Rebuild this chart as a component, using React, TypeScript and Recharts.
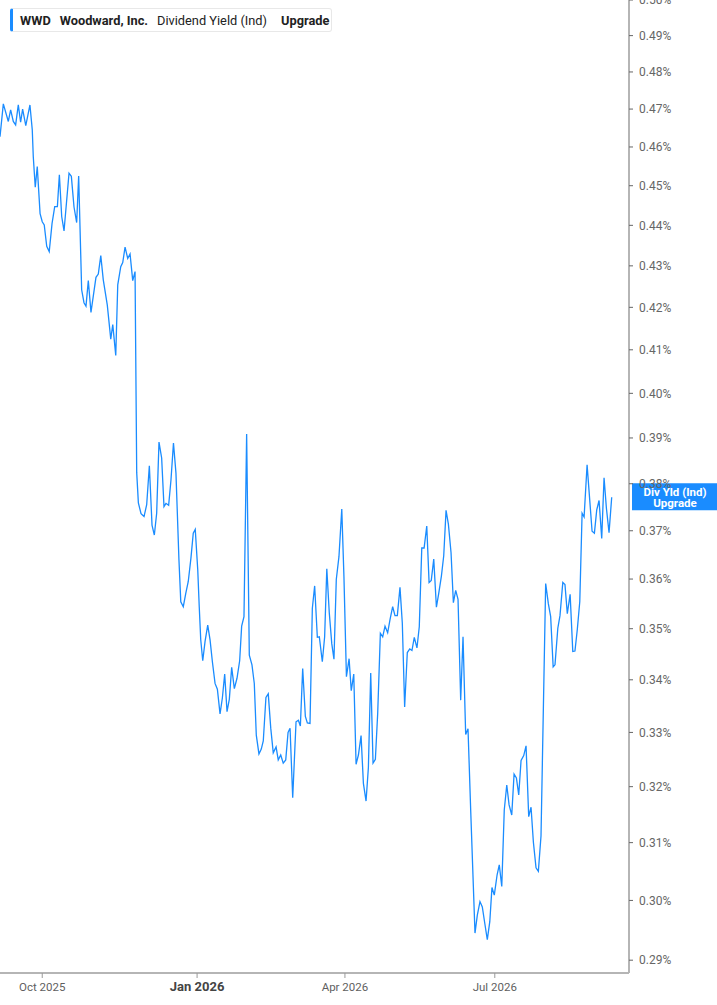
import { LineChart, Line, XAxis, YAxis, ReferenceLine } from 'recharts';

// days since 2025-09-05 (chart start) for each plotted observation
const days = [
  0.0, 2.0, 5.0, 6.4, 8.0, 9.4, 11.0, 12.4, 13.6, 15.5,
  18.0, 19.4, 20.0, 21.2, 22.4, 24.1, 25.4, 26.6, 28.1, 29.6,
  31.3, 32.9, 34.5, 35.7, 37.1, 38.5, 41.5, 42.9, 44.5, 46.1,
  47.3, 49.1, 50.5, 51.7, 53.1, 54.7, 57.7, 59.1, 60.6, 62.1,
  64.5, 66.6, 67.8, 69.6, 70.8, 72.6, 73.8, 75.2, 76.8, 78.2,
  79.8, 81.2, 82.2, 83.2, 84.8, 86.6, 88.2, 89.8, 91.4, 92.8,
  94.2, 95.6, 97.2, 98.6, 99.8, 101.4, 102.8, 104.3, 105.8, 107.6,
  108.7, 110.2, 111.7, 113.2, 114.8, 116.2, 117.4, 118.9, 119.8, 120.7,
  121.9, 123.3, 124.9, 126.3, 127.7, 129.3, 130.7, 132.3, 133.7, 135.1,
  136.5, 137.9, 139.3, 140.9, 142.5, 144.1, 145.3, 146.7, 148.3, 149.9,
  151.5, 152.9, 154.1, 155.7, 157.1, 158.3, 159.9, 161.3, 162.8, 164.3,
  166.0, 167.3, 168.8, 170.3, 171.8, 173.2, 174.4, 176.0, 178.0, 179.4,
  180.6, 182.0, 183.6, 184.8, 186.4, 187.8, 189.2, 190.8, 192.0, 193.8,
  195.2, 196.5, 198.0, 199.5, 200.8, 202.2, 203.8, 205.5, 206.8, 208.3,
  209.9, 211.2, 212.7, 214.1, 215.5, 217.1, 218.5, 220.1, 221.5, 222.9,
  224.3, 225.7, 227.1, 228.7, 230.1, 231.5, 233.1, 234.5, 236.1, 237.5,
  238.9, 240.5, 241.9, 243.3, 244.9, 246.4, 247.7, 249.1, 250.7, 252.1,
  253.6, 255.0, 256.6, 258.0, 259.3, 260.8, 262.4, 263.8, 265.4, 266.8,
  268.2, 269.6, 271.2, 272.6, 274.0, 275.4, 277.0, 278.4, 280.0, 281.4,
  283.0, 285.6, 287.0, 288.6, 290.0, 291.5, 293.0, 294.5, 295.8, 297.2,
  298.9, 300.2, 301.7, 303.2, 304.7, 306.1, 307.7, 309.1, 310.5, 311.9,
  313.3, 314.9, 316.3, 317.9, 319.3, 320.7, 322.3, 323.7, 325.3, 328.1,
  329.7, 331.1, 332.6, 333.7, 335.4, 336.7, 338.4, 339.7, 341.1, 342.8,
  344.4, 345.7, 347.1, 348.6, 350.0, 351.2, 353.0, 354.4, 356.0, 357.4,
  358.8, 360.2, 361.8, 363.2, 364.6, 366.2, 367.8,
];

// dividend yield (indicated), in percent
const divYield = [
  0.4627, 0.4714, 0.4667, 0.4698, 0.4667, 0.4658, 0.4711, 0.4665, 0.47, 0.4656,
  0.4711, 0.4645, 0.4575, 0.4496, 0.4549, 0.4429, 0.4409, 0.4401, 0.4348, 0.4335,
  0.4405, 0.4447, 0.4447, 0.4528, 0.4422, 0.4386, 0.4532, 0.4524, 0.4446, 0.4407,
  0.4525, 0.4242, 0.4211, 0.4203, 0.4264, 0.4188, 0.4272, 0.428, 0.4325, 0.4266,
  0.4206, 0.4125, 0.4159, 0.4087, 0.4254, 0.4298, 0.4308, 0.4346, 0.4318, 0.4329,
  0.4264, 0.4286, 0.3824, 0.3759, 0.3736, 0.373, 0.3755, 0.3839, 0.3712, 0.3691,
  0.3737, 0.3891, 0.3856, 0.3751, 0.3758, 0.3754, 0.3808, 0.3889, 0.3823, 0.3639,
  0.3554, 0.3544, 0.3571, 0.3595, 0.3643, 0.3695, 0.3703, 0.3619, 0.3544, 0.3478,
  0.3437, 0.3475, 0.3507, 0.3478, 0.3435, 0.3393, 0.3382, 0.3335, 0.3365, 0.3411,
  0.3339, 0.3363, 0.3424, 0.3383, 0.3403, 0.3437, 0.3505, 0.3524, 0.3909, 0.3448,
  0.3429, 0.3393, 0.3295, 0.326, 0.3269, 0.3284, 0.3366, 0.3373, 0.3308, 0.3262,
  0.3273, 0.3249, 0.3258, 0.3243, 0.3249, 0.33, 0.3308, 0.318, 0.332, 0.3323,
  0.3312, 0.3422, 0.333, 0.3318, 0.3317, 0.3541, 0.3586, 0.3483, 0.3484, 0.3435,
  0.3484, 0.3621, 0.3531, 0.347, 0.344, 0.3599, 0.3646, 0.3746, 0.3605, 0.3406,
  0.3441, 0.3379, 0.3411, 0.3241, 0.3258, 0.3294, 0.3206, 0.3174, 0.3235, 0.3413,
  0.3243, 0.325, 0.3336, 0.3491, 0.3484, 0.3505, 0.3492, 0.3518, 0.3544, 0.3526,
  0.3526, 0.3583, 0.3511, 0.3348, 0.3453, 0.346, 0.3457, 0.3483, 0.3462, 0.3504,
  0.3664, 0.3664, 0.371, 0.3593, 0.3597, 0.3641, 0.3543, 0.3571, 0.3606, 0.3648,
  0.3743, 0.3714, 0.3654, 0.3552, 0.3577, 0.3559, 0.3361, 0.3484, 0.3296, 0.3307,
  0.3159, 0.2945, 0.2975, 0.2998, 0.2989, 0.2961, 0.2934, 0.2964, 0.3022, 0.3009,
  0.3044, 0.3061, 0.3024, 0.3158, 0.3203, 0.3167, 0.3149, 0.3223, 0.3216, 0.3185,
  0.3248, 0.3257, 0.3275, 0.3146, 0.3163, 0.3101, 0.3056, 0.305, 0.3112, 0.3591,
  0.355, 0.3524, 0.3425, 0.3429, 0.3501, 0.3526, 0.3593, 0.3589, 0.353, 0.3569,
  0.3455, 0.3456, 0.3498, 0.3554, 0.3737, 0.3729, 0.3841, 0.3774, 0.3699, 0.3695,
  0.3744, 0.3764, 0.3684, 0.3813, 0.3748, 0.3696, 0.3771,
];

const xTickDays = [25.4, 118.5, 207.4, 297.5];
const xTickLabels = ['Oct 2025', 'Jan 2026', 'Apr 2026', 'Jul 2026'];
const yTicks = [
  0.29, 0.3, 0.31, 0.32, 0.33, 0.34, 0.35, 0.36, 0.37, 0.38, 0.39, 0.4, 0.41,
  0.42, 0.43, 0.44, 0.45, 0.46, 0.47, 0.48, 0.49, 0.5,
];

const data = days.map((d, i) => ({ day: d, value: divYield[i] }));
const lastValue = divYield[divYield.length - 1];

const BLUE = '#1a8cff';
const FONT = 'Roboto, "Noto Sans", sans-serif';

const XTick = ({ x, y, payload }: any) => {
  const i = xTickDays.indexOf(payload.value);
  const label = xTickLabels[i] ?? '';
  const isYear = label.startsWith('Jan');
  return (
    <text
      x={x}
      y={y + 11}
      textAnchor="middle"
      fontFamily={FONT}
      fontSize={isYear ? 13 : 11.5}
      fontWeight={isYear ? 700 : 400}
      fill={isYear ? '#444' : '#5f5f5f'}
    >
      {label}
    </text>
  );
};

const ValueTag = (props: any) => {
  const vb = props.viewBox || {};
  const left = (vb.x ?? 0) + (vb.width ?? 0) + 3;
  const cy = vb.y ?? 0;
  return (
    <g>
      <rect x={left} y={cy - 14} width={90} height={27} fill={BLUE} />
      <text
        x={left + 43}
        y={cy - 1.5}
        textAnchor="middle"
        fontFamily={FONT}
        fontSize={11.5}
        fontWeight={700}
        fill="#fff"
      >
        Div Yld (Ind)
      </text>
      <text
        x={left + 43}
        y={cy + 10}
        textAnchor="middle"
        fontFamily={FONT}
        fontSize={11.5}
        fontWeight={700}
        fill="#fff"
      >
        Upgrade
      </text>
    </g>
  );
};

export default function App() {
  return (
    <div
      style={{
        position: 'absolute',
        left: 0,
        top: 0,
        width: 717,
        height: 1005,
        background: '#fff',
        fontFamily: FONT,
      }}
    >
      <LineChart
        width={717}
        height={1005}
        data={data}
        margin={{ top: 0, right: 0, bottom: 0, left: 0 }}
      >
        <XAxis
          dataKey="day"
          type="number"
          domain={[0, 378.2]}
          ticks={xTickDays}
          allowDataOverflow
          height={32}
          axisLine={{ stroke: '#b5b5b5', strokeWidth: 2 }}
          tickLine={{ stroke: '#9a9a9a' }}
          tickSize={5}
          tick={<XTick />}
          interval={0}
        />
        <YAxis
          orientation="right"
          scale="log"
          domain={[0.2879, 0.5]}
          allowDataOverflow
          ticks={yTicks}
          interval={0}
          width={88}
          axisLine={{ stroke: '#b5b5b5', strokeWidth: 2 }}
          tickLine={{ stroke: '#666' }}
          tickSize={4}
          tickMargin={6}
          tick={{ fontSize: 12, fill: '#666', fontFamily: FONT }}
          tickFormatter={(v: number) => `${v.toFixed(2)}%`}
        />
        <Line
          type="linear"
          dataKey="value"
          stroke={BLUE}
          strokeWidth={1.3}
          dot={false}
          activeDot={false}
          isAnimationActive={false}
        />
        <ReferenceLine
          y={lastValue}
          stroke="none"
          ifOverflow="visible"
          label={<ValueTag />}
        />
      </LineChart>

      {/* header legend */}
      <div
        style={{
          position: 'absolute',
          left: 10,
          top: 8,
          width: 322,
          height: 24,
          border: '1px solid #e8e8e8',
          borderLeft: `3px solid ${BLUE}`,
          borderRadius: 3,
          background: '#fff',
          display: 'flex',
          alignItems: 'center',
          paddingLeft: 7,
          boxSizing: 'border-box',
          fontSize: 12.8,
          color: '#222',
          whiteSpace: 'nowrap',
        }}
      >
        <span style={{ fontWeight: 700, marginRight: 9 }}>WWD</span>
        <span style={{ fontWeight: 700, marginRight: 9 }}>Woodward, Inc.</span>
        <span style={{ marginRight: 14 }}>Dividend Yield (Ind)</span>
        <span style={{ fontWeight: 700 }}>Upgrade</span>
      </div>
    </div>
  );
}
